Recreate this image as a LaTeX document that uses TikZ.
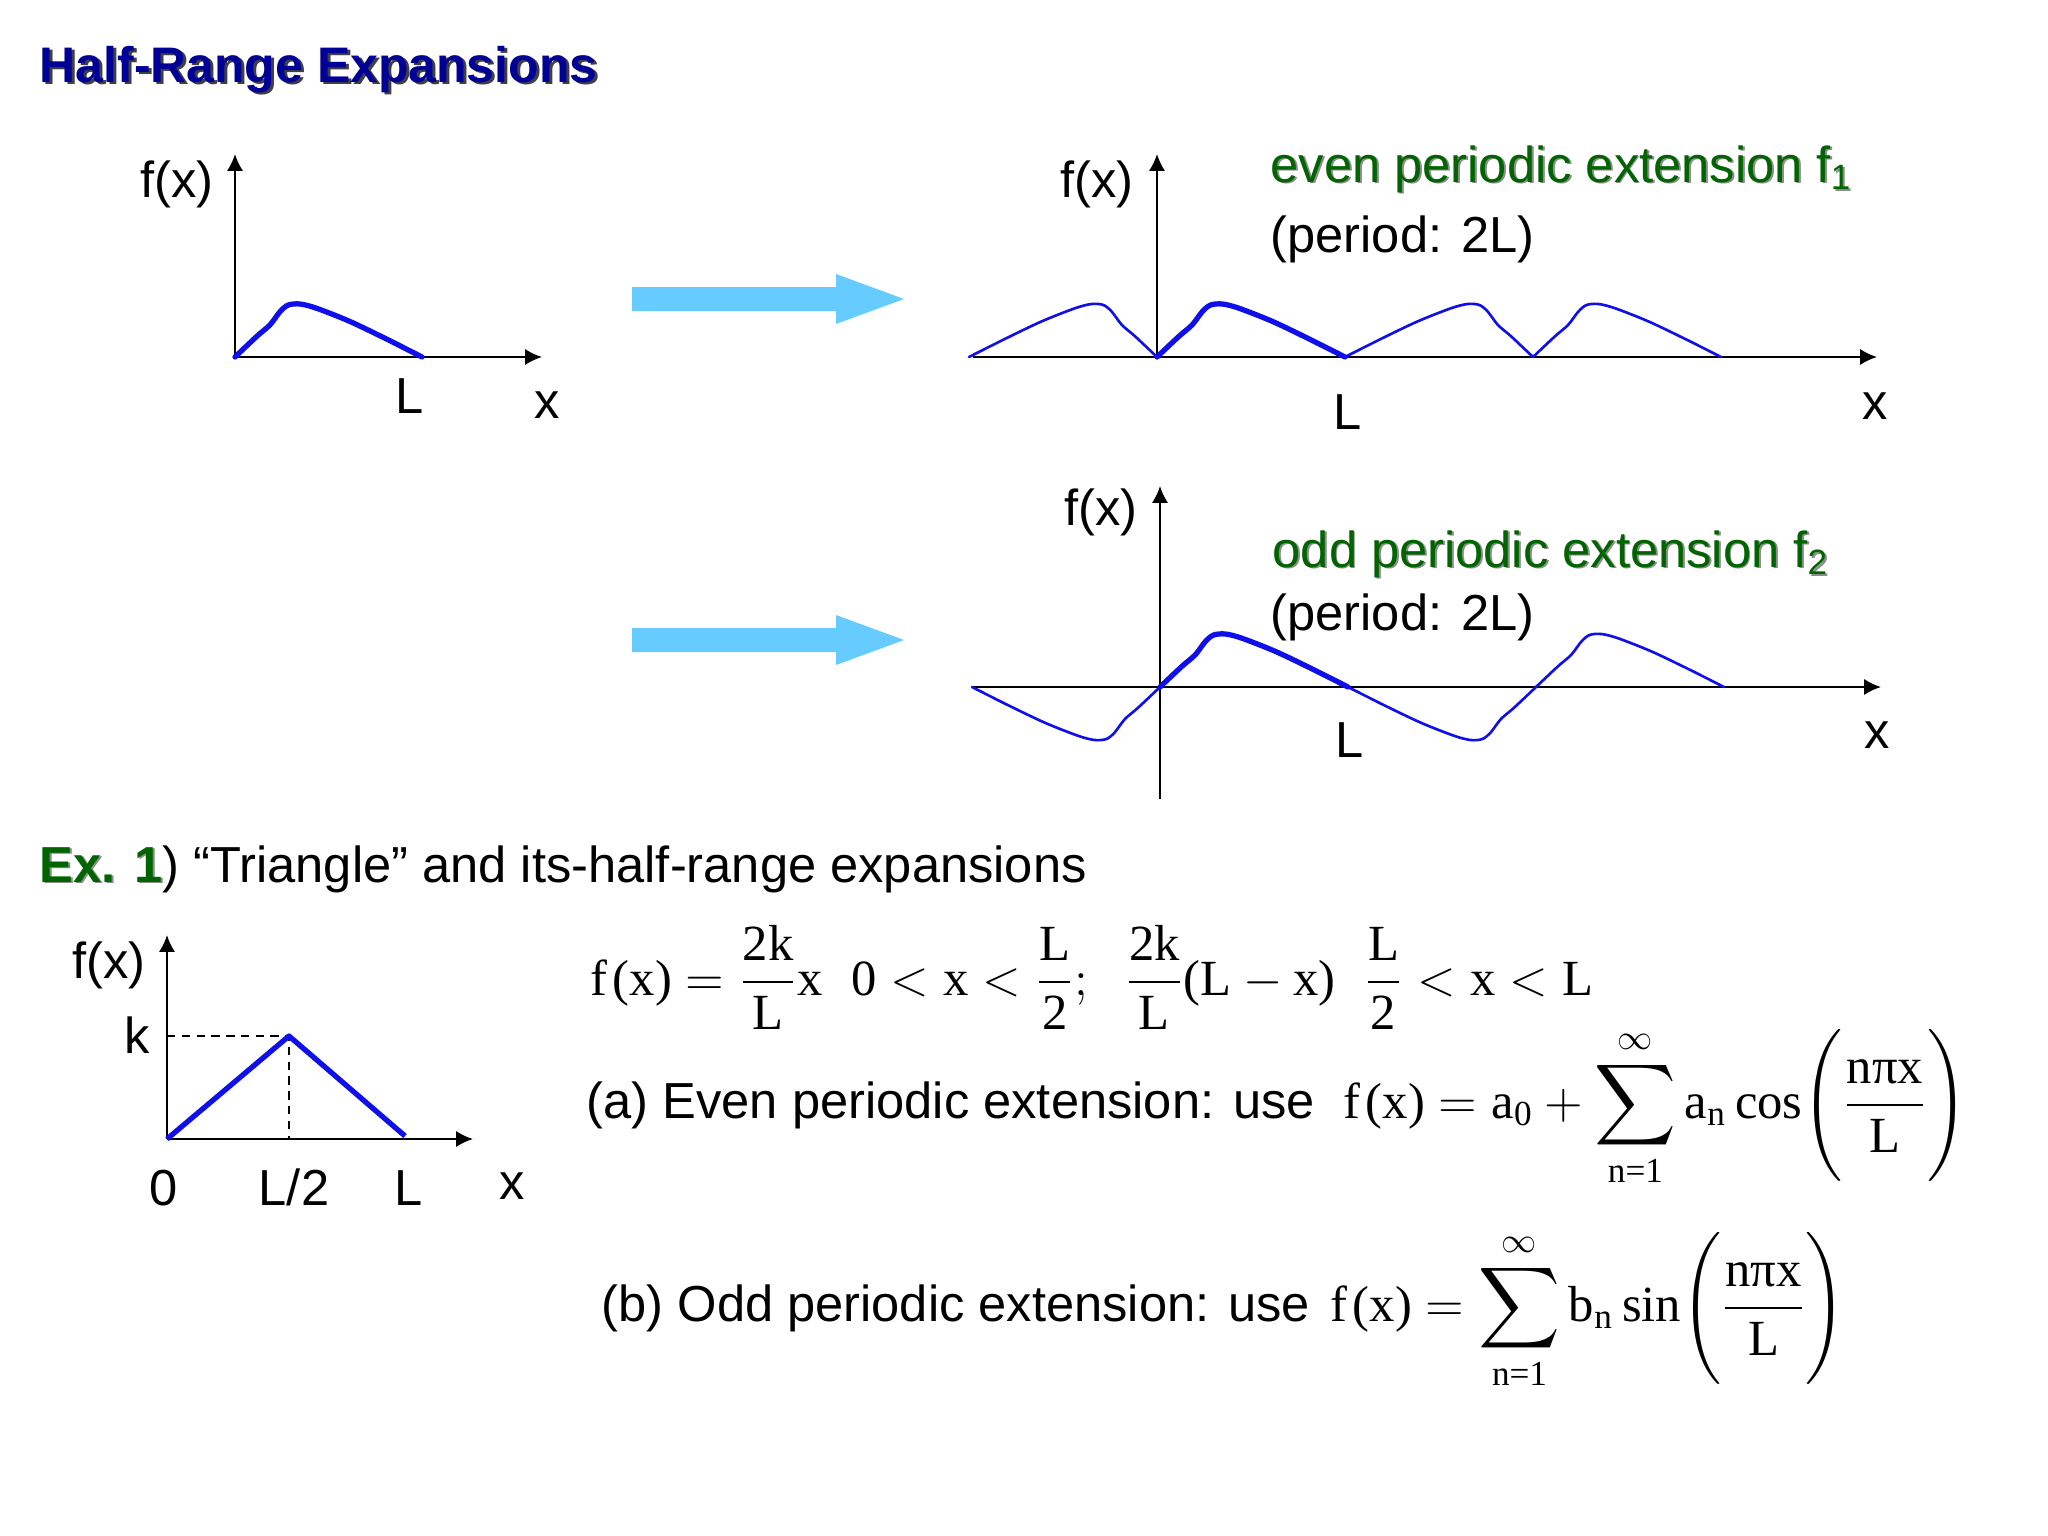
\documentclass[tikz,border=0pt]{standalone}
\usepackage{amsmath}
\usepackage{graphicx}
\usepackage{fontspec}
\setmainfont{Liberation Sans}
\newfontfamily\rmx{Liberation Serif}
\usetikzlibrary{arrows.meta}
\definecolor{titleblue}{RGB}{0,0,150}
\definecolor{dgreen}{RGB}{0,100,0}
\definecolor{lblue}{RGB}{102,204,255}
\definecolor{cblue}{RGB}{15,15,235}
\newcommand\T[1]{\text{\rmx #1}}
\newcommand\bigsum{\mathop{\vcenter{\hbox{\scalebox{1.12}{$\displaystyle\sum$}}}}\limits}
% text with a drop shadow: {offset}{shadow colour}{text colour}{text}
\newcommand\shtext[4]{\makebox[0pt][l]{\hspace{#1}\raisebox{-#1}{\textcolor{#2}{#4}}}\textcolor{#3}{#4}}
\newcommand\halfpath{plot[smooth] coordinates {(0,0) (0.116,0.388) (0.187,0.606) (0.241,0.857) (0.285,0.981) (0.348,1.0) (0.437,0.919) (0.615,0.670) (0.811,0.338) (1,0)}}
\begin{document}
\begin{tikzpicture}[x=0.01cm,y=-0.01cm,
  lab/.style={font=\fontsize{14.4}{17}\selectfont, inner sep=0, anchor=base},
  eqf/.style={font=\fontsize{14.4}{17}\selectfont, inner sep=0, anchor=base west},
  axisline/.style={line width=0.6pt, -{Latex[length=4.8pt,width=4.6pt]}},
  thincurve/.style={cblue, line width=0.75pt, line cap=round, line join=round},
  thickcurve/.style={cblue, line width=1.5pt, line cap=round, line join=round},
  bigarrow/.style={fill=lblue}]
\useasboundingbox[fill=white] (0,0) rectangle (2048,1536);

% title
\node[lab, anchor=base west, font=\bfseries\fontsize{14.2}{17}\selectfont] (title) at (39,82) {\shtext{0.85pt}{black!75}{titleblue}{Half-Range Expansions}};

% ---------- top-left graph ----------
\coordinate (o1) at (235,357);
\coordinate (x1) at (542,357);
\coordinate (y1) at (235,154);
\draw[axisline] (o1) -- (x1);
\draw[axisline] (o1) -- (y1);
\draw[thickcurve, shift={(o1)}, xscale=187, yscale=-53] \halfpath;
\node[lab] (fx1) at (177,197) {f(x)};
\node[lab] (L1) at (410,413) {L};
\node[lab] (xl1) at (547,418) {x};

% big arrows
\fill[bigarrow] (632,287) -- (836,287) -- (836,274) -- (904,299) -- (836,324) -- (836,311) -- (632,311) -- cycle;
\fill[bigarrow] (632,628) -- (836,628) -- (836,615) -- (904,640) -- (836,665) -- (836,652) -- (632,652) -- cycle;

% ---------- even extension ----------
\coordinate (o2) at (1157,357);
\coordinate (x2l) at (973,357);
\coordinate (x2) at (1877,357);
\coordinate (y2) at (1157,154);
\draw[axisline] (x2l) -- (x2);
\draw[axisline] (o2) -- (y2);
\begin{scope}[shift={(o2)}]
  \draw[thincurve, xscale=-188, yscale=-53] \halfpath;
  \draw[thincurve, shift={(376,0)}, xscale=-188, yscale=-53] \halfpath;
  \draw[thincurve, shift={(376,0)}, xscale=188, yscale=-53] \halfpath;
  \draw[thickcurve, xscale=188, yscale=-53] \halfpath;
\end{scope}
\node[lab] (fx2) at (1097,197) {f(x)};
\node[lab] (L2) at (1348,429) {L};
\node[lab] (xl2) at (1875,419) {x};
\node[lab, anchor=base west] (even) at (1270,182) {\shtext{0.55pt}{black!45}{dgreen}{even periodic extension f\textsubscript{1}}};
\node[lab, anchor=base west] (per1) at (1270,252) {(period: 2L)};

% ---------- odd extension ----------
\coordinate (o3) at (1160,687);
\coordinate (x3l) at (973,687);
\coordinate (x3) at (1881,687);
\coordinate (y3) at (1160,486);
\coordinate (y3b) at (1160,799);
\draw[axisline] (x3l) -- (x3);
\draw[axisline] (y3b) -- (y3);
\begin{scope}[shift={(o3)}]
  \draw[thincurve, xscale=-188, yscale=53] \halfpath;
  \draw[thincurve, shift={(376,0)}, xscale=-188, yscale=53] \halfpath;
  \draw[thincurve, shift={(376,0)}, xscale=188, yscale=-53] \halfpath;
  \draw[thickcurve, xscale=188, yscale=-53] \halfpath;
\end{scope}
\node[lab] (fx3) at (1101,525) {f(x)};
\node[lab] (L3) at (1350,757) {L};
\node[lab] (xl3) at (1877,748) {x};
\node[lab, anchor=base west] (odd) at (1272,567) {\shtext{0.55pt}{black!45}{dgreen}{odd periodic extension f\textsubscript{2}}};
\node[lab, anchor=base west] (per2) at (1270,630) {(period: 2L)};

% ---------- Ex. 1 ----------
\node[lab, anchor=base west] (ex) at (39,882) {\shtext{0.55pt}{black!45}{dgreen}{\bfseries Ex. 1}) “Triangle” and its-half-range expansions};

% triangle graph
\coordinate (o4) at (167,1139);
\coordinate (x4) at (473,1139);
\coordinate (y4) at (167,935);
\coordinate (pk) at (289,1036);
\coordinate (kk) at (167,1036);
\coordinate (hf) at (289,1139);
\coordinate (ee) at (405,1136);
\draw[axisline] (o4) -- (x4);
\draw[axisline] (o4) -- (y4);
\draw[line width=0.45pt, dash pattern=on 2.4pt off 1.8pt] (kk) -- (pk) -- (hf);
\draw[thickcurve, line cap=butt] (o4) -- (pk) -- (ee);
\node[lab] (fx4) at (109,978) {f(x)};
\node[lab] (k4) at (137,1053) {k};
\node[lab] (z4) at (164,1205) {0};
\node[lab] (h4) at (294,1205) {L/2};
\node[lab] (L4) at (409,1205) {L};
\node[lab] (xl4) at (512,1199) {x};

% ---------- equations ----------
\node[eqf] (eq1) at (590,995) {$\T{f\kern1.5pt(x)}=\dfrac{\T{2k}}{\T{L}}\T{x}\;\;\T{0}<\T{x}<\dfrac{\T{L}}{\T{2}};\;\;\dfrac{\T{2k}}{\T{L}}\T{(L}-\T{x)}\;\;\dfrac{\T{L}}{\T{2}}<\T{x}<\T{L}$};

\node[lab, anchor=base west] (ta) at (586,1118) {(a) Even periodic extension: use};
\node[eqf] (ma) at (1343,1118) {$\T{f\kern1.5pt(x)}=\T{a}_{\T{0}}+\bigsum_{\T{n=1}}^{\infty}\T{a}_{\T{n}}\,\T{cos}\!\left(\rule[-17pt]{0pt}{41pt}\dfrac{\T{nπx}}{\T{L}}\right)$};

\node[lab, anchor=base west] (tb) at (601,1321) {(b) Odd periodic extension: use};
\node[eqf] (mb) at (1330,1321) {$\T{f\kern1.5pt(x)}=\bigsum_{\T{n=1}}^{\infty}\T{b}_{\T{n}}\,\T{sin}\!\left(\rule[-17pt]{0pt}{41pt}\dfrac{\T{nπx}}{\T{L}}\right)$};
\end{tikzpicture}
\end{document}
